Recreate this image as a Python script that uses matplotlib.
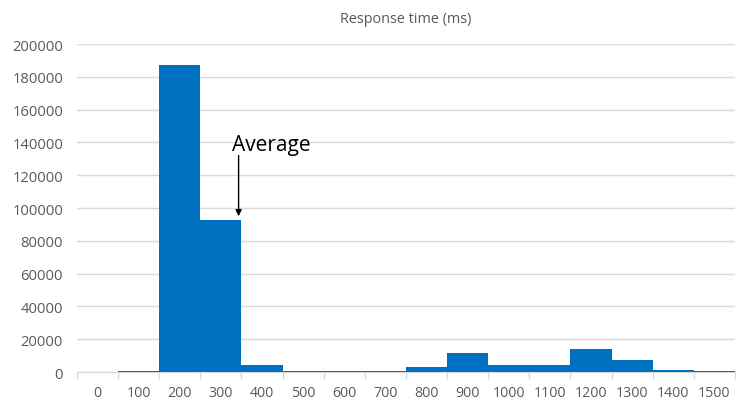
import matplotlib.pyplot as plt
import numpy as np

# response time buckets (ms) and request counts
buckets = ['0', '100', '200', '300', '400', '500', '600', '700', '800',
           '900', '1000', '1100', '1200', '1300', '1400', '1500']
counts = [0, 700, 187000, 92500, 4500, 500, 500, 500, 3000,
          11800, 4600, 4600, 13800, 7500, 1400, 500]
average_value = 95000
average_pos = 3.43

bar_color = '#0070C0'
grid_color = '#D9D9D9'
text_color = '#595959'

plt.rcParams['font.family'] = ['Open Sans', 'DejaVu Sans']

fig = plt.figure(figsize=(7.36, 4.02), dpi=100)
ax = fig.add_axes([0.1046, 0.072, 0.894, 0.816])

x = np.arange(len(buckets))
ax.bar(x, counts, width=1.0, color=bar_color, linewidth=0, zorder=3)

ax.set_xlim(-0.5, len(buckets) - 0.5)
ax.set_ylim(0, 200000)
ax.set_yticks(np.arange(0, 200001, 20000))
ax.yaxis.grid(True, color=grid_color, linewidth=1, zorder=0)
ax.tick_params(axis='y', length=0, pad=10, labelsize=10.6, labelcolor=text_color)

ax.set_xticks(x)
ax.set_xticklabels(buckets)
ax.set_xticks(np.arange(-0.5, len(buckets)), minor=True)
ax.tick_params(axis='x', which='major', length=0, pad=9, labelsize=10.2, labelcolor=text_color)
ax.tick_params(axis='x', which='minor', length=5, color=grid_color, width=1)

for side in ['left', 'right', 'top']:
    ax.spines[side].set_visible(False)
ax.spines['bottom'].set_color(grid_color)

ax.set_title('Response time (ms)', fontsize=10.4, color=text_color, pad=16)

# label and arrow pointing at the average response time
ax.text(average_pos - 0.16, 135500, 'Average', ha='left', va='baseline',
        fontsize=15, color='black')
ax.annotate('', xy=(average_pos, average_value), xytext=(average_pos, 132000),
            arrowprops=dict(arrowstyle='-|>', color='black', lw=1.0,
                            mutation_scale=9, shrinkA=0, shrinkB=0))

plt.savefig('out.png', dpi=100)
